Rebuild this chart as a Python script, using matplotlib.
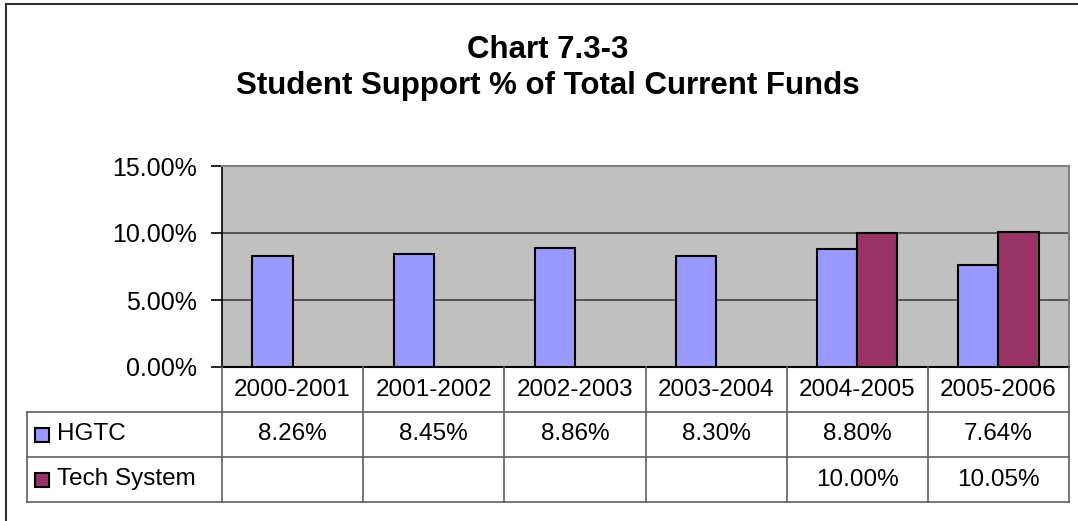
import matplotlib
matplotlib.use("Agg")
import matplotlib.pyplot as plt
from matplotlib.lines import Line2D
from matplotlib.patches import Rectangle
import numpy as np

plt.rcParams['font.family'] = ['Liberation Sans', 'DejaVu Sans']

# data
years = ['2000-2001', '2001-2002', '2002-2003', '2003-2004', '2004-2005', '2005-2006']
hgtc = [8.26, 8.45, 8.86, 8.30, 8.80, 7.64]
tech = [None, None, None, None, 10.00, 10.05]
series_names = ['HGTC', 'Tech System']
series_colors = ['#9999FF', '#993366']

W, H = 1078, 521
fig = plt.figure(figsize=(W / 100, H / 100), dpi=100)

def fx(px):
    return px / W

def fy(py):
    return 1 - py / H

# outer chart frame (only top and left visible)
fig.add_artist(Line2D([fx(6), fx(6)], [fy(4), 0], color='#333333', lw=1.5))
fig.add_artist(Line2D([fx(6), 1], [fy(4), fy(4)], color='#333333', lw=1.5))

fig.text(fx(548), fy(50), 'Chart 7.3-3', ha='center', va='center',
         fontsize=22.5, fontweight='bold')
fig.text(fx(548), fy(86), 'Student Support % of Total Current Funds', ha='center',
         va='center', fontsize=22.5, fontweight='bold')

# plot area
left, right, top, bottom = 222, 1069, 166, 367
ax = fig.add_axes([fx(left), fy(bottom), fx(right - left), fy(top) - fy(bottom)])
ax.set_facecolor('#C0C0C0')
n = len(years)
x = np.arange(n) + 0.5
bw = 0.285
ax.bar(x - bw / 2, hgtc, width=bw, color=series_colors[0], edgecolor='black', lw=1.5, zorder=3)
tx = [x[i] + bw / 2 for i in range(n) if tech[i] is not None]
tv = [v for v in tech if v is not None]
ax.bar(tx, tv, width=bw, color=series_colors[1], edgecolor='black', lw=1.5, zorder=3)
ax.set_xlim(0, n)
ax.set_ylim(0, 15)
ax.set_yticks([0, 5, 10, 15])
ax.set_yticklabels([f'{v:.2f}%' for v in [0, 5, 10, 15]], fontsize=18)
ax.yaxis.grid(True, color='#444444', lw=1.2, zorder=1)
ax.set_xticks([])
ax.tick_params(axis='y', length=8, width=1.2, pad=10)
for s in ['top', 'right']:
    ax.spines[s].set_color('#808080')
    ax.spines[s].set_linewidth(1.5)
ax.spines['left'].set_color('black')
ax.spines['bottom'].set_color('black')
ax.spines['left'].set_linewidth(1.2)
ax.spines['bottom'].set_linewidth(1.5)

# data table below
tleft, tbottom = 27, 502
row_h = (tbottom - bottom) / 3
tab = fig.add_axes([fx(tleft), fy(tbottom), fx(right - tleft), fy(bottom) - fy(tbottom)])
lab_w = (left - tleft) / ((right - left) / n)
tab.set_xlim(-lab_w, n)
tab.set_ylim(3, 0)
tab.axis('off')
lc = '#606060'
for yv in [1, 2, 3]:
    tab.plot([-lab_w, n], [yv, yv], color=lc, lw=1.2, clip_on=False)
tab.plot([-lab_w, -lab_w], [1, 3], color=lc, lw=1.2, clip_on=False)
for xv in range(n + 1):
    tab.plot([xv, xv], [0, 3], color=lc, lw=1.2, clip_on=False)
for i, yr in enumerate(years):
    tab.text(i + 0.5, 0.5, yr, ha='center', va='center', fontsize=17.5)
    tab.text(i + 0.5, 1.5, f'{hgtc[i]:.2f}%', ha='center', va='center', fontsize=17.5)
    if tech[i] is not None:
        tab.text(i + 0.5, 2.5, f'{tech[i]:.2f}%', ha='center', va='center', fontsize=17.5)
for r, (name, col) in enumerate(zip(series_names, series_colors)):
    yc = fy(bottom + row_h * (r + 1.5))
    sq = 14
    fig.add_artist(Rectangle((fx(35), yc - (sq / 2) / H), sq / W, sq / H,
                             facecolor=col, edgecolor='black', lw=1.5))
    fig.text(fx(57), yc, name, ha='left', va='center', fontsize=17.5)

fig.savefig('out.png', dpi=100)
